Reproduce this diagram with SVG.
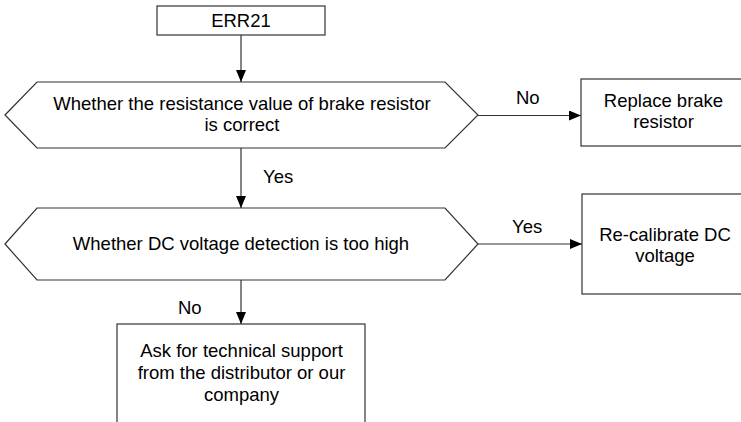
<svg xmlns="http://www.w3.org/2000/svg" width="741" height="422" viewBox="0 0 741 422">
<style>
.s{fill:#fff;stroke:#333;stroke-width:1.2}
.t{font-family:"Liberation Sans",Arial,sans-serif;font-size:18.5px;fill:#000}
.c{text-anchor:middle}
.l{fill:none;stroke:#333;stroke-width:1.2}
</style>
<defs>
<marker id="a" viewBox="0 0 12 10" refX="12" refY="5" markerWidth="12" markerHeight="10" markerUnits="userSpaceOnUse" orient="auto">
<path d="M0,0 L12,5 L0,10 Z" fill="#000"/>
</marker>
</defs>
<rect width="741" height="422" fill="#fff"/>
<g id="connectors">
<line class="l" x1="241" y1="35" x2="241" y2="82" marker-end="url(#a)"/>
<line class="l" x1="241" y1="148" x2="241" y2="208" marker-end="url(#a)"/>
<line class="l" x1="478" y1="115.5" x2="581" y2="115.5" marker-end="url(#a)"/>
<line class="l" x1="478" y1="244" x2="582" y2="244" marker-end="url(#a)"/>
<line class="l" x1="241" y1="280" x2="241" y2="324" marker-end="url(#a)"/>
<text class="t" x="263" y="183">Yes</text>
<text class="t" x="516" y="104">No</text>
<text class="t" x="512" y="233">Yes</text>
<text class="t" x="178" y="314">No</text>
</g>
<g id="err21">
<rect class="s" x="157" y="6" width="168" height="29"/>
<text class="t c" x="241" y="27">ERR21</text>
</g>
<g id="check-resistor">
<polygon class="s" points="5,115 37,82 445,82 478,115 445,148 37,148"/>
<text class="t c" x="242" y="110">Whether the resistance value of brake resistor</text>
<text class="t c" x="242" y="131">is correct</text>
</g>
<g id="replace-resistor">
<rect class="s" x="581" y="79" width="170" height="67"/>
<text class="t c" x="663.5" y="107">Replace brake</text>
<text class="t c" x="663.5" y="128">resistor</text>
</g>
<g id="check-dc">
<polygon class="s" points="5,244 37,208 445,208 478,244 445,280 37,280"/>
<text class="t c" x="241" y="250">Whether DC voltage detection is too high</text>
</g>
<g id="recalibrate">
<rect class="s" x="582" y="194" width="170" height="100"/>
<text class="t c" x="665" y="241">Re-calibrate DC</text>
<text class="t c" x="665" y="262">voltage</text>
</g>
<g id="support">
<rect class="s" x="117" y="324" width="248" height="110"/>
<text class="t c" x="241.5" y="357">Ask for technical support</text>
<text class="t c" x="241.5" y="379">from the distributor or our</text>
<text class="t c" x="241.5" y="401">company</text>
</g>
</svg>
